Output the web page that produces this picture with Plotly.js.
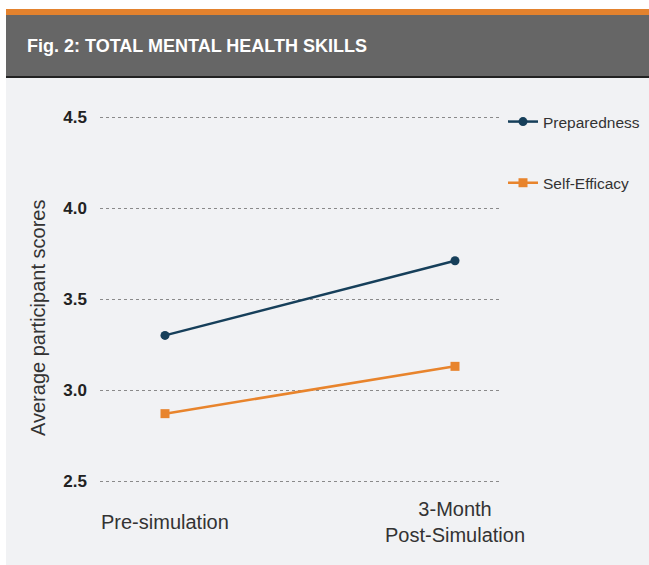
<!DOCTYPE html>
<html>
<head>
<meta charset="utf-8">
<script src="https://cdn.plot.ly/plotly-3.0.1.min.js"></script>
<style>
html,body{margin:0;padding:0;background:#ffffff;}
#chart{width:649px;height:565px;}
</style>
</head>
<body>
<div id="chart"></div>
<script>
// ---- data ----
var categories = ["Pre-simulation", "3-Month<br>Post-Simulation"];
var preparedness = [3.30, 3.71];
var selfEfficacy = [2.87, 3.13];
var seriesNames = ["Preparedness", "Self-Efficacy"];
var yTickVals = [2.5, 3.0, 3.5, 4.0, 4.5];
var yTickText = ["2.5", "3.0", "3.5", "4.0", "4.5"];
var titleText = "Fig. 2: TOTAL MENTAL HEALTH SKILLS";
var yTitle = "Average participant scores";

// ---- layout geometry (pixels) ----
var W = 649, H = 565;
var L = 100, R = 149, T = 99, B = 66;
var pw = W - L - R, ph = H - T - B;
function px(x){ return (x - L) / pw; }
function py(y){ return (H - B - y) / ph; }

var FONT = "Liberation Sans, Arial, Helvetica, sans-serif";
var xIdx = categories.map(function(_, i){ return i; });

var traces = [
  {
    x: xIdx, y: preparedness, name: seriesNames[0], type: "scatter", mode: "lines+markers",
    line: {color: "#163f5a", width: 2.5},
    marker: {symbol: "circle", size: 9, color: "#163f5a"},
    legendgroup: "a", cliponaxis: false
  },
  {
    x: xIdx, y: selfEfficacy, name: seriesNames[1], type: "scatter", mode: "lines+markers",
    line: {color: "#e8842c", width: 2.5},
    marker: {symbol: "square", size: 9, color: "#e8842c"},
    legendgroup: "b", cliponaxis: false
  }
];

var annotations = categories.map(function(c, i){
  return {
    x: i, xref: "x", y: py(522), yref: "paper",
    text: c, showarrow: false, xanchor: "center", yanchor: "middle",
    font: {family: FONT, size: 20, color: "#333333"}, align: "center"
  };
});
annotations.push({
  x: px(38), xref: "paper", y: py(318), yref: "paper",
  text: yTitle, showarrow: false, textangle: -90,
  xanchor: "center", yanchor: "middle",
  font: {family: FONT, size: 20, color: "#333333"}
});

var layout = {
  width: W, height: H,
  margin: {l: L, r: R, t: T, b: B, pad: 0, autoexpand: false},
  paper_bgcolor: "#ffffff",
  plot_bgcolor: "rgba(0,0,0,0)",
  showlegend: true,
  title: {
    text: "<b>" + titleText + "</b>",
    x: 27 / W, xref: "container", xanchor: "left",
    y: 1 - 46 / H, yref: "container", yanchor: "middle",
    font: {family: FONT, size: 18, color: "#ffffff"}
  },
  xaxis: {
    range: [-65 / 290, (pw - 65) / 290],
    showgrid: false, zeroline: false, showline: false,
    showticklabels: false, ticks: "", fixedrange: true
  },
  yaxis: {
    range: [2.5 + (481 - (H - B)) / 182, 4.5 + (117 - T) / 182],
    tickvals: yTickVals, ticktext: yTickText,
    showgrid: true, gridcolor: "#8a8a8a", gridwidth: 1, griddash: "dot",
    zeroline: false, showline: false, ticks: "",
    ticklabelstandoff: 12,
    tickfont: {family: FONT, size: 17, color: "#222222", weight: "bold"},
    automargin: false
  },
  legend: {
    xref: "container", yref: "container",
    x: 503 / W, y: 1 - 105 / H, xanchor: "left", yanchor: "top",
    bgcolor: "rgba(0,0,0,0)",
    font: {family: FONT, size: 15.5, color: "#333333"},
    traceorder: "grouped", tracegroupgap: 38, itemwidth: 30
  },
  annotations: annotations,
  shapes: [
    {type: "rect", xref: "paper", yref: "paper", x0: px(6), x1: px(649), y0: py(78), y1: py(565),
     fillcolor: "#f1f2f4", line: {width: 0}, layer: "below"},
    {type: "rect", xref: "paper", yref: "paper", x0: px(6), x1: px(649), y0: py(76), y1: py(15),
     fillcolor: "#666666", line: {width: 0}, layer: "below"},
    {type: "rect", xref: "paper", yref: "paper", x0: px(6), x1: px(649), y0: py(78), y1: py(76),
     fillcolor: "#222222", line: {width: 0}, layer: "below"},
    {type: "rect", xref: "paper", yref: "paper", x0: px(6), x1: px(649), y0: py(15), y1: py(9),
     fillcolor: "#e3822e", line: {width: 0}, layer: "below"}
  ]
};

Plotly.newPlot("chart", traces, layout, {displayModeBar: false, staticPlot: true});
</script>
</body>
</html>
